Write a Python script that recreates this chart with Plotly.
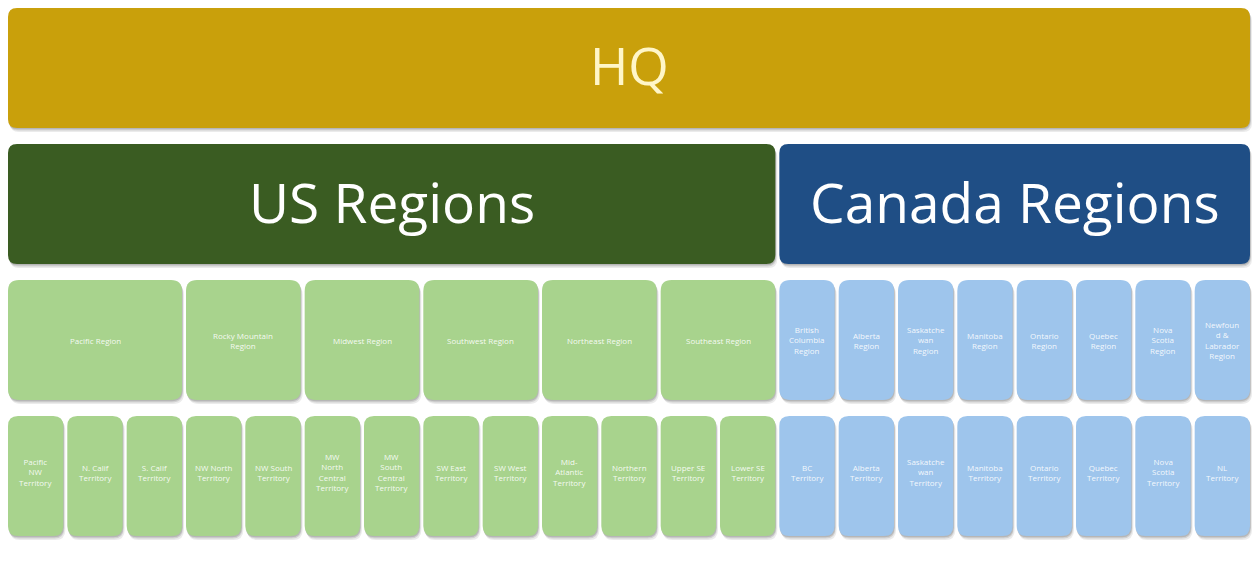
import plotly.graph_objects as go

# ---------------- data ----------------
hq_label = "HQ"
country_labels = ["US Regions", "Canada Regions"]

us_regions = ["Pacific Region", "Rocky Mountain<br>Region", "Midwest Region",
              "Southwest Region", "Northeast Region", "Southeast Region"]
us_region_territory_counts = [3, 2, 2, 2, 2, 2]
us_territories = ["Pacific<br>NW<br>Territory", "N. Calif<br>Territory", "S. Calif<br>Territory",
                  "NW North<br>Territory", "NW South<br>Territory",
                  "MW<br>North<br>Central<br>Territory", "MW<br>South<br>Central<br>Territory",
                  "SW East<br>Territory", "SW West<br>Territory",
                  "Mid-<br>Atlantic<br>Territory", "Northern<br>Territory",
                  "Upper SE<br>Territory", "Lower SE<br>Territory"]

canada_regions = ["British<br>Columbia<br>Region", "Alberta<br>Region", "Saskatche<br>wan<br>Region",
                  "Manitoba<br>Region", "Ontario<br>Region", "Quebec<br>Region",
                  "Nova<br>Scotia<br>Region", "Newfoun<br>d &<br>Labrador<br>Region"]
canada_region_territory_counts = [1, 1, 1, 1, 1, 1, 1, 1]
canada_territories = ["BC<br>Territory", "Alberta<br>Territory", "Saskatche<br>wan<br>Territory",
                      "Manitoba<br>Territory", "Ontario<br>Territory", "Quebec<br>Territory",
                      "Nova<br>Scotia<br>Territory", "NL<br>Territory"]

# ---------------- styling ----------------
W, H = 1252, 571
GRID_LEFT_PX, GRID_RIGHT_PX = 6, 1252
GRID_TOP_PX = 8
LEVEL_PITCH_PX = 136
BOX_H_PX = 120
GAP_PX = 4

C_HQ = "#C9A00B"
C_US = "#3A5C22"
C_CA = "#1F4E85"
C_US_L = "#A8D38D"
C_CA_L = "#9EC5EC"

n_cols = len(us_territories) + len(canada_territories)
sx = (GRID_RIGHT_PX - GRID_LEFT_PX) / n_cols   # px per column unit
sy = LEVEL_PITCH_PX                             # px per level unit
x_range = [-GRID_LEFT_PX / sx, (W - GRID_LEFT_PX) / sx]
y_range = [(H - GRID_TOP_PX) / sy, -GRID_TOP_PX / sy]   # reversed
bh = BOX_H_PX / sy
gx = GAP_PX / sx

shapes = []
annotations = []


def rrect_path(x0, x1, y0, y1, r):
    rx, ry = r / sx, r / sy
    return (f"M {x0+rx},{y0} L {x1-rx},{y0} Q {x1},{y0} {x1},{y0+ry} "
            f"L {x1},{y1-ry} Q {x1},{y1} {x1-rx},{y1} L {x0+rx},{y1} "
            f"Q {x0},{y1} {x0},{y1-ry} L {x0},{y0+ry} Q {x0},{y0} {x0+rx},{y0} Z")


def box(c0, c1, level, color, text, fsize, tcolor, r, ty=0.5):
    x0, x1 = c0 + gx / 2, c1 - gx / 2
    y0, y1 = level, level + bh
    for dx, dy, a in [(2, 4, 0.10), (1, 2.5, 0.14), (0.5, 1.2, 0.18)]:
        shapes.append(dict(type="path", xref="x", yref="y",
                           path=rrect_path(x0 + dx / sx, x1 + dx / sx, y0 + dy / sy, y1 + dy / sy, r),
                           fillcolor=f"rgba(60,60,60,{a})", line=dict(width=0), layer="below"))
    shapes.append(dict(type="path", xref="x", yref="y", path=rrect_path(x0, x1, y0, y1, r),
                       fillcolor=color, line=dict(width=0), layer="below"))
    annotations.append(dict(x=(x0 + x1) / 2, y=y0 + bh * ty, xref="x", yref="y",
                            text=text, showarrow=False,
                            font=dict(size=fsize, color=tcolor, family="Open Sans"),
                            align="center"))


# Level 0 : HQ
box(0, n_cols, 0, C_HQ, hq_label, 52, "#FFF6C8", 9, ty=0.47)

# Level 1 : countries
n_us = len(us_territories)
box(0, n_us, 1, C_US, country_labels[0], 55, "#FFFFFF", 9, ty=0.48)
box(n_us, n_cols, 1, C_CA, country_labels[1], 55, "#FFFFFF", 9, ty=0.48)

# Level 2 : regions, Level 3 : territories
col = 0
for name, cnt in zip(us_regions, us_region_territory_counts):
    box(col, col + cnt, 2, C_US_L, name, 8, "rgba(255,255,255,0.9)", 11)
    col += cnt
for name, cnt in zip(canada_regions, canada_region_territory_counts):
    box(col, col + cnt, 2, C_CA_L, name, 8, "rgba(255,255,255,0.9)", 11)
    col += cnt

col = 0
for name in us_territories:
    box(col, col + 1, 3, C_US_L, name, 8, "rgba(255,255,255,0.9)", 10, ty=0.47)
    col += 1
for name in canada_territories:
    box(col, col + 1, 3, C_CA_L, name, 8, "rgba(255,255,255,0.9)", 10, ty=0.47)
    col += 1

fig = go.Figure()
fig.add_trace(go.Scatter(x=[x_range[0]], y=[y_range[1]], mode="markers",
                         marker=dict(opacity=0), hoverinfo="skip", showlegend=False))
fig.update_layout(
    width=W, height=H, margin=dict(l=0, r=0, t=0, b=0),
    paper_bgcolor="white", plot_bgcolor="white",
    xaxis=dict(range=x_range, visible=False, fixedrange=True),
    yaxis=dict(range=y_range, visible=False, fixedrange=True),
    shapes=shapes, annotations=annotations, showlegend=False,
)
fig.write_html("out.html", config={"displayModeBar": False},
               post_script="document.body.style.margin='0';document.body.style.overflow='hidden';")
